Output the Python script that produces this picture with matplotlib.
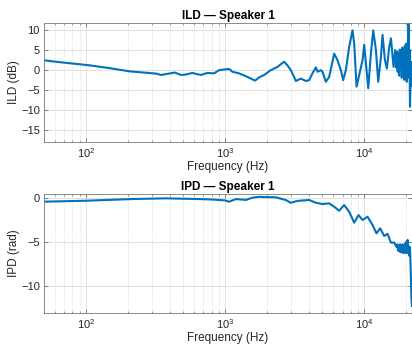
import matplotlib
matplotlib.use("Agg")
import matplotlib.pyplot as plt
from matplotlib.ticker import LogLocator, NullFormatter, FixedLocator

plt.rcParams['font.family'] = ['Liberation Sans', 'DejaVu Sans']

# ---- ILD data (frequency Hz, dB) ----
ild_freq = [50, 64, 106, 148, 206, 260, 319, 347, 374, 435, 482, 521, 582, 669, 746, 834, 906,
            1069, 1129, 1261, 1409, 1531, 1644, 1757, 1909, 2133, 2379, 2656, 2807, 2969,
            3136, 3224, 3505, 3808, 4020, 4248, 4494, 4618, 4880, 5012, 5300, 5598, 6083,
            6425, 6798, 7058, 7382, 7798, 8238, 8472, 8806, 9209, 9729, 10000, 10690, 11170,
            11610, 12140, 12610, 13190, 13540, 14090, 14560, 15130, 15560, 16250, 16700,
            17000, 17200, 17400, 17600, 17800, 18000, 18200, 18400, 18600, 18800, 19000,
            19200, 19400, 19600, 19800, 20000, 20200, 20400, 20600, 20840, 21000, 21150,
            21330, 21500, 21700, 21900, 22050]
ild_db = [2.35, 1.9, 1.1, 0.4, -0.4, -0.7, -0.95, -1.3, -1.1, -0.7, -1.3, -1.2, -0.8, -1.3, -0.8, -0.9, -0.1,
          0.2, -0.5, -0.9, -1.6, -2.2, -2.7, -1.9, -1.3, -0.1, 0.7, 2.0, 1.1, -0.1,
          -1.8, -2.8, -2.2, -2.8, -2.6, -0.9, 0.6, -0.5, -0.1, -0.5, -3.0, -1.8, 4.0,
          2.4, -0.1, -2.6, -0.1, 5.7, 9.8, 6.5, -4.2, -1.3, 2.4, 6.2, -4.6, 4.0,
          9.8, 4.9, -3.0, 3.2, 8.7, 2.4, 0.3, 5.7, 7.8, 0.7, 4.9,
          0.5, 4.5, -0.5, 4.0, -1.5, 5.0, 0.5, 4.5, -2.0, 5.5, -0.5,
          5.0, -2.5, 6.0, -1.0, 6.5, -3.0, 5.5, -2.0, 12.5, -1.5, 5.0,
          -9.2, -3.0, 2.0, -4.0, 0.5]

# ---- IPD data (frequency Hz, rad) ----
ipd_freq = [50, 100, 214, 376, 650, 805, 1000, 1069, 1200, 1416, 1564, 1757, 1973, 2316, 2573,
            2734, 2969, 3225, 3406, 4020, 4494, 4744, 5012, 5598, 6083, 6607, 7176, 7798, 8472,
            9101, 9729, 10570, 11480, 12250, 13030, 13920, 14720, 15560, 16440, 17070,
            17300, 17500, 17700, 17900, 18100, 18300, 18500, 18700, 18900, 19100, 19300,
            19500, 19700, 19900, 20100, 20300, 20500, 20700, 20900, 21100, 21300, 21500,
            21700, 21850, 22050]
ipd_rad = [-0.45, -0.34, -0.15, -0.07, -0.15, -0.2, -0.3, -0.45, -0.15, -0.25, 0.0, 0.1, 0.07, 0.05, -0.15,
           -0.26, -0.57, -0.41, -0.34, -0.26, -0.57, -0.64, -0.72, -0.64, -1.02, -1.48, -0.83, -1.59, -2.84,
           -1.97, -2.53, -2.16, -3.1, -4.05, -3.48, -4.35, -4.1, -5.1, -5.1, -5.6,
           -5.3, -6.0, -5.4, -6.1, -5.3, -6.2, -5.4, -6.2, -5.3, -6.3, -5.5,
           -6.2, -5.2, -6.3, -5.0, -6.2, -4.8, -6.3, -5.5, -6.6, -5.6, -7.3,
           -9.5, -11.5, -12.3]

line_color = '#0072BD'
txt_color = '#262626'

fig = plt.figure(figsize=(4.12, 3.5), dpi=100)
ax1 = fig.add_axes([44 / 412, (350 - 141.7) / 350, 368 / 412, 119 / 350])
ax2 = fig.add_axes([44 / 412, (350 - 312.7) / 350, 368 / 412, 118.4 / 350])


def style(ax, yticks, ylim):
    ax.set_xscale('log')
    ax.set_xlim(50, 22050)
    ax.set_ylim(*ylim)
    ax.yaxis.set_major_locator(FixedLocator(yticks))
    ax.xaxis.set_major_locator(LogLocator(base=10, numticks=10))
    ax.xaxis.set_minor_locator(LogLocator(base=10, subs=range(2, 10), numticks=20))
    ax.xaxis.set_minor_formatter(NullFormatter())
    ax.grid(True, which='major', color='#dcdcdc', linewidth=0.6, linestyle='-')
    ax.grid(True, which='minor', axis='x', color='#cfcfcf', linewidth=0.5, linestyle=(0, (1, 1.5)))
    ax.set_axisbelow(True)
    for s in ax.spines.values():
        s.set_color('#7a7a7a')
        s.set_linewidth(0.6)
    ax.tick_params(which='both', direction='in', top=True, right=True, colors='#555555',
                   labelcolor=txt_color, labelsize=8, pad=3)
    ax.tick_params(which='major', length=3, width=0.5)
    ax.tick_params(which='minor', length=1.6, width=0.4)
    ax.set_xlabel('Frequency (Hz)', fontsize=8.5, color=txt_color, labelpad=1)
    ax.yaxis.set_label_coords(-0.066, 0.5)


ax1.plot(ild_freq, ild_db, color=line_color, linewidth=1.5)
style(ax1, [-15, -10, -5, 0, 5, 10], (-17.9, 11.7))
ax1.set_ylabel('ILD (dB)', fontsize=8.5, color=txt_color)
ax1.set_title('ILD \u2014 Speaker 1', fontsize=8.5, fontweight='bold', color='black', pad=3)

ax2.plot(ipd_freq, ipd_rad, color=line_color, linewidth=1.5)
style(ax2, [-10, -5, 0], (-13.07, 0.39))
ax2.set_ylabel('IPD (rad)', fontsize=8.5, color=txt_color)
ax2.set_title('IPD \u2014 Speaker 1', fontsize=8.5, fontweight='bold', color='black', pad=3)

fig.savefig('out.png', dpi=100, facecolor='white')
